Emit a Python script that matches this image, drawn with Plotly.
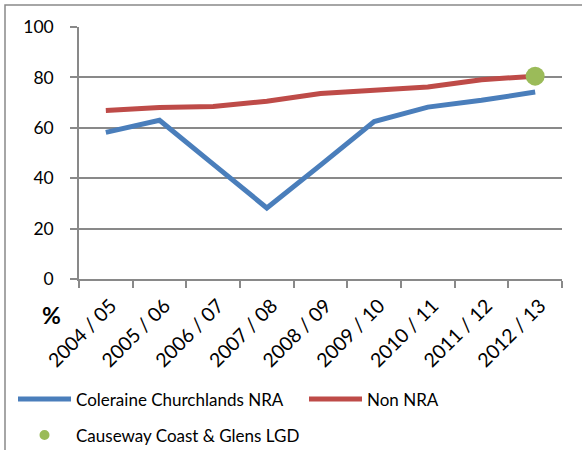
import plotly.graph_objects as go

categories = ["2004 / 05", "2005 / 06", "2006 / 07", "2007 / 08", "2008 / 09",
              "2009 / 10", "2010 / 11", "2011 / 12", "2012 / 13"]
coleraine = [58.2, 63.0, 45.6, 28.2, 45.2, 62.5, 68.2, 70.9, 74.2]
non_nra = [66.9, 68.1, 68.5, 70.5, 73.6, 75.1, 76.2, 79.1, 80.5]
lgd_cat = ["2012 / 13"]
lgd_val = [80.5]

BLUE = "#4A7EBB"
RED = "#BE4B48"
GREEN = "#9BBB59"
GRID = "#898989"
FONT = "Lato"

W, H = 582, 450
L, R, T, B = 79, 20, 27, 171
PW, PH = W - L - R, H - T - B

def px(x):
    return (x - L) / PW

def py(y):
    return (H - B - y) / PH

fig = go.Figure()
fig.add_trace(go.Scatter(x=categories, y=coleraine, mode="lines",
                         line=dict(color=BLUE, width=5), name="Coleraine Churchlands NRA",
                         showlegend=False))
fig.add_trace(go.Scatter(x=categories, y=non_nra, mode="lines",
                         line=dict(color=RED, width=5), name="Non NRA", showlegend=False))
fig.add_trace(go.Scatter(x=lgd_cat, y=lgd_val, mode="markers",
                         marker=dict(color=GREEN, size=19), name="Causeway Coast & Glens LGD",
                         showlegend=False))

shapes = []
# outer frame
shapes.append(dict(type="rect", xref="paper", yref="paper",
                   x0=px(5), x1=px(640), y0=py(520), y1=py(5),
                   line=dict(color=GRID, width=1.5), fillcolor="rgba(0,0,0,0)", layer="below"))
# legend symbols
shapes.append(dict(type="line", xref="paper", yref="paper", x0=px(18), x1=px(71),
                   y0=py(399), y1=py(399), line=dict(color=BLUE, width=5)))
shapes.append(dict(type="line", xref="paper", yref="paper", x0=px(309), x1=px(362),
                   y0=py(399), y1=py(399), line=dict(color=RED, width=5)))
shapes.append(dict(type="circle", xref="paper", yref="paper", x0=px(39.5), x1=px(49.5),
                   y0=py(440), y1=py(430), line=dict(color=GREEN, width=0), fillcolor=GREEN))

annotations = [
    dict(text="Coleraine Churchlands NRA", xref="paper", yref="paper", x=px(74), y=py(399),
         xanchor="left", yanchor="middle", showarrow=False, font=dict(size=17, color="#000", family=FONT)),
    dict(text="Non NRA", xref="paper", yref="paper", x=px(365), y=py(399),
         xanchor="left", yanchor="middle", showarrow=False, font=dict(size=17, color="#000", family=FONT)),
    dict(text="Causeway Coast & Glens LGD", xref="paper", yref="paper", x=px(74), y=py(435),
         xanchor="left", yanchor="middle", showarrow=False, font=dict(size=17, color="#000", family=FONT)),
    dict(text="<b>%</b>", xref="paper", yref="paper", x=px(51), y=py(315),
         xanchor="center", yanchor="middle", showarrow=False, font=dict(size=23, color="#000", family=FONT)),
]

fig.update_layout(
    width=W, height=H,
    margin=dict(l=L, r=R, t=T, b=B),
    paper_bgcolor="white", plot_bgcolor="white",
    font=dict(family=FONT, color="#000"),
    shapes=shapes, annotations=annotations,
    showlegend=False,
)
fig.update_xaxes(type="category", range=[-0.5, 8.5], tickangle=-45,
                 ticks="outside", tickson="boundaries", ticklen=7, tickcolor=GRID, tickwidth=1.5,
                 showline=True, linecolor=GRID, linewidth=1.5, showgrid=False,
                 ticklabelstandoff=6, ticklabelshift=5,
                 tickfont=dict(size=19.5, family=FONT, color="#000"))
fig.update_yaxes(range=[0, 100], dtick=20, ticks="outside", ticklen=7, tickcolor=GRID, tickwidth=1.5,
                 showline=True, linecolor=GRID, linewidth=1.5, showgrid=True, gridcolor=GRID, gridwidth=1.5,
                 ticklabelstandoff=13,
                 zeroline=False, tickfont=dict(size=17.5, family=FONT, color="#000"))

fig.write_html("out.html", config={"displayModeBar": False},
               post_script="document.body.style.margin='0';document.body.style.padding='0';")
